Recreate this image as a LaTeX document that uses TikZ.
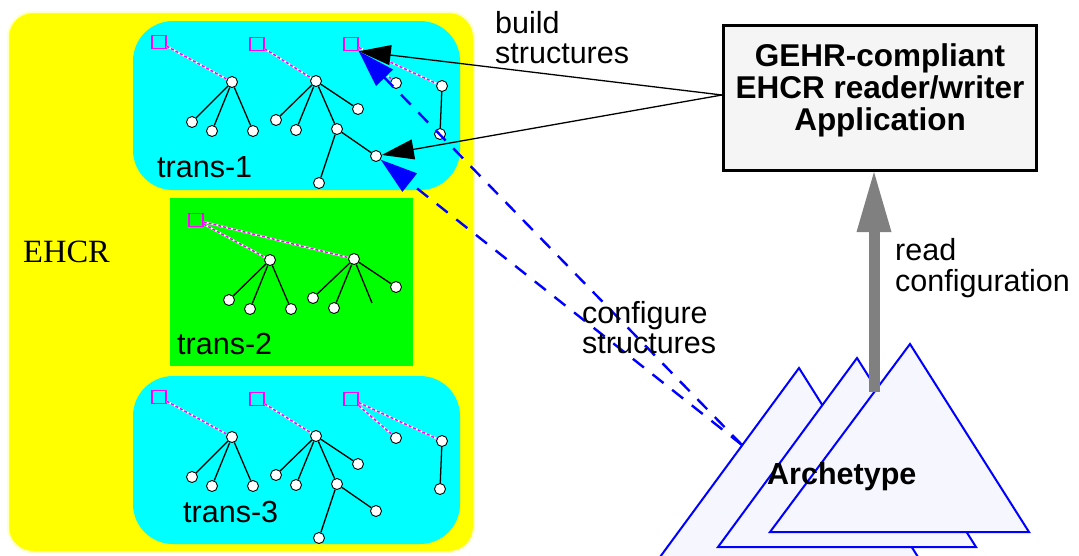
\documentclass[tikz,border=0pt]{standalone}
\usepackage{fontspec}
\setmainfont{Liberation Serif}
\newfontfamily\labelfont{Liberation Sans}
\usetikzlibrary{arrows.meta}

\definecolor{ehcryellow}{RGB}{255,255,0}
\definecolor{ehcrhalo}{RGB}{255,255,200}
\definecolor{transcyan}{RGB}{0,255,255}
\definecolor{transgreen}{RGB}{0,255,0}
\definecolor{archmagenta}{RGB}{255,0,255}
\definecolor{appfill}{RGB}{245,245,245}
\definecolor{archfill}{RGB}{246,246,255}
\definecolor{archblue}{RGB}{0,0,255}
\definecolor{readgray}{RGB}{128,128,128}

\tikzset{
  treenode/.style={circle, draw=black, fill=white, line width=0.9pt, inner sep=0pt, minimum size=11pt},
  archsq/.style={rectangle, draw=archmagenta, line width=1.5pt, inner sep=0pt, minimum width=14pt, minimum height=13pt},
  treeedge/.style={draw=black, line width=1.3pt},
  archref/.style={draw=archmagenta, line width=1.5pt, dash pattern=on 3pt off 2pt,
    preaction={draw=white, line width=1.8pt, solid}},
  lbl/.style={font=\labelfont\fontsize{30.5}{30}\selectfont, inner sep=0pt, anchor=base west},
  archtri/.style={fill=archfill, draw=archblue, line width=2pt, line join=miter},
  cfgarrow/.style={draw=archblue, line width=2.4pt, dash pattern=on 14pt off 11pt,
    -{Triangle[length=37pt,width=23pt]}},
  buildarrow/.style={draw=black, line width=1.3pt, -{Triangle[length=32pt,width=20pt]}},
  readarrow/.style={draw=readgray, line width=11pt, -{Triangle[length=60pt,width=35pt,line width=0pt]}},
}

% one transaction tree group: #1 = name prefix, #2 = downward offset
\newcommand\ehcrtranstree[2]{%
  \begin{scope}[yshift=-#2pt]
    \node[archsq] (#1-s1) at (159,42) {};
    \node[archsq] (#1-s2) at (257,44) {};
    \node[archsq] (#1-s3) at (351,44) {};
    \node[treenode] (#1-r1)  at (232,82) {};
    \node[treenode] (#1-r1a) at (192,122) {};
    \node[treenode] (#1-r1b) at (212,131) {};
    \node[treenode] (#1-r1c) at (253,131) {};
    \node[treenode] (#1-r2)  at (316,81) {};
    \node[treenode] (#1-r2a) at (276,120) {};
    \node[treenode] (#1-r2b) at (296,130) {};
    \node[treenode] (#1-r2c) at (358,109) {};
    \node[treenode] (#1-r2d) at (337,129) {};
    \node[treenode] (#1-r2e) at (319,183) {};
    \node[treenode] (#1-r2f) at (376,156) {};
    \node[treenode] (#1-r3)  at (396,83) {};
    \node[treenode] (#1-r4)  at (442,86) {};
    \node[treenode] (#1-r4a) at (440,134) {};
    \draw[treeedge] (#1-r1) -- (#1-r1a) (#1-r1) -- (#1-r1b) (#1-r1) -- (#1-r1c);
    \draw[treeedge] (#1-r2) -- (#1-r2a) (#1-r2) -- (#1-r2b) (#1-r2) -- (#1-r2c) (#1-r2) -- (#1-r2d);
    \draw[treeedge] (#1-r2d) -- (#1-r2e) (#1-r2d) -- (#1-r2f);
    \draw[treeedge] (#1-r4) -- (#1-r4a);
    \draw[archref] (#1-s1) -- (#1-r1);
    \draw[archref] (#1-s2) -- (#1-r2);
    \draw[archref] (#1-s3) -- (#1-r3);
    \draw[archref] (#1-s3) -- (#1-r4);
  \end{scope}}

\begin{document}
\begin{tikzpicture}[x=1pt, y=-1pt]
\useasboundingbox (0,0) rectangle (1079,555);

% EHCR container and its transactions
\fill[ehcryellow, draw=ehcrhalo, line width=2pt, rounded corners=25pt] (8,12) rectangle (474,552);
\node[font=\fontsize{32.5}{32}\selectfont, inner sep=0pt, anchor=base west] (ehcrlabel) at (23,262) {EHCR};
\fill[transcyan, rounded corners=40pt] (133,21) rectangle (460,190);
\fill[transgreen] (170,198) rectangle (413,366);
\fill[transcyan, rounded corners=40pt] (133,376) rectangle (460,544);

\ehcrtranstree{t1}{0}
\ehcrtranstree{t3}{355}

% trans-2 trees
\node[archsq] (t2-s1) at (196,220) {};
\node[treenode] (t2-r1)  at (270,260) {};
\node[treenode] (t2-r1a) at (229,300) {};
\node[treenode] (t2-r1b) at (250,309) {};
\node[treenode] (t2-r1c) at (291,309) {};
\node[treenode] (t2-r2)  at (354,259) {};
\node[treenode] (t2-r2a) at (313,298) {};
\node[treenode] (t2-r2b) at (334,308) {};
\node[treenode] (t2-r2c) at (396,287) {};
\coordinate (t2-r2d) at (372,303);
\draw[treeedge] (t2-r1) -- (t2-r1a) (t2-r1) -- (t2-r1b) (t2-r1) -- (t2-r1c);
\draw[treeedge] (t2-r2) -- (t2-r2a) (t2-r2) -- (t2-r2b) (t2-r2) -- (t2-r2c) (t2-r2) -- (t2-r2d);
\draw[archref] (t2-s1) -- (t2-r1);
\draw[archref] (t2-s1) -- (t2-r2);

\node[lbl] (t1lbl) at (157,177) {trans-1};
\node[lbl] (t2lbl) at (177,354) {trans-2};
\node[lbl] (t3lbl) at (183,522) {trans-3};

% stacked archetypes
\filldraw[archtri] (799,368) -- (918,557) -- (660,557) -- cycle;
\filldraw[archtri] (857,358) -- (976,547) -- (718,547) -- cycle;
\filldraw[archtri] (910,344) -- (1029,532) -- (770,532) -- cycle;
\node[lbl, font=\labelfont\bfseries\fontsize{30.5}{30}\selectfont] (archlabel) at (767,484) {Archetype};
\coordinate (archedge) at (742,445);
\coordinate (archtop) at (874,392);

% application
\node[draw=black, line width=3pt, fill=appfill, minimum width=313pt, minimum height=145pt, inner sep=0pt] (app) at (880,98) {};
\node[font=\labelfont\bfseries\fontsize{31.5}{32}\selectfont, inner sep=0pt, anchor=base] (apptext) at (880,66)
  {\begin{tabular}[t]{@{}c@{}}GEHR-compliant\\EHCR reader/writer\\Application\end{tabular}};

% connectors
\draw[cfgarrow] (archedge) -- (t1-s3.south east);
\draw[cfgarrow] (archedge) -- (t1-r2f);
\draw[buildarrow] ([yshift=3pt]app.west) -- (t1-s3.south east);
\draw[buildarrow] ([yshift=3pt]app.west) -- (t1-r2f);
\draw[readarrow] (archtop) -- ([xshift=-6pt]app.south);

% connector labels
\node[lbl] (buildlbl) at (495,33) {\begin{tabular}[t]{@{}l@{}}build\\structures\end{tabular}};
\node[lbl] (cfglbl) at (582,323) {\begin{tabular}[t]{@{}l@{}}configure\\structures\end{tabular}};
\node[lbl] (readlbl) at (895,260) {\begin{tabular}[t]{@{}l@{}}read\\configuration\end{tabular}};
\end{tikzpicture}
\end{document}
